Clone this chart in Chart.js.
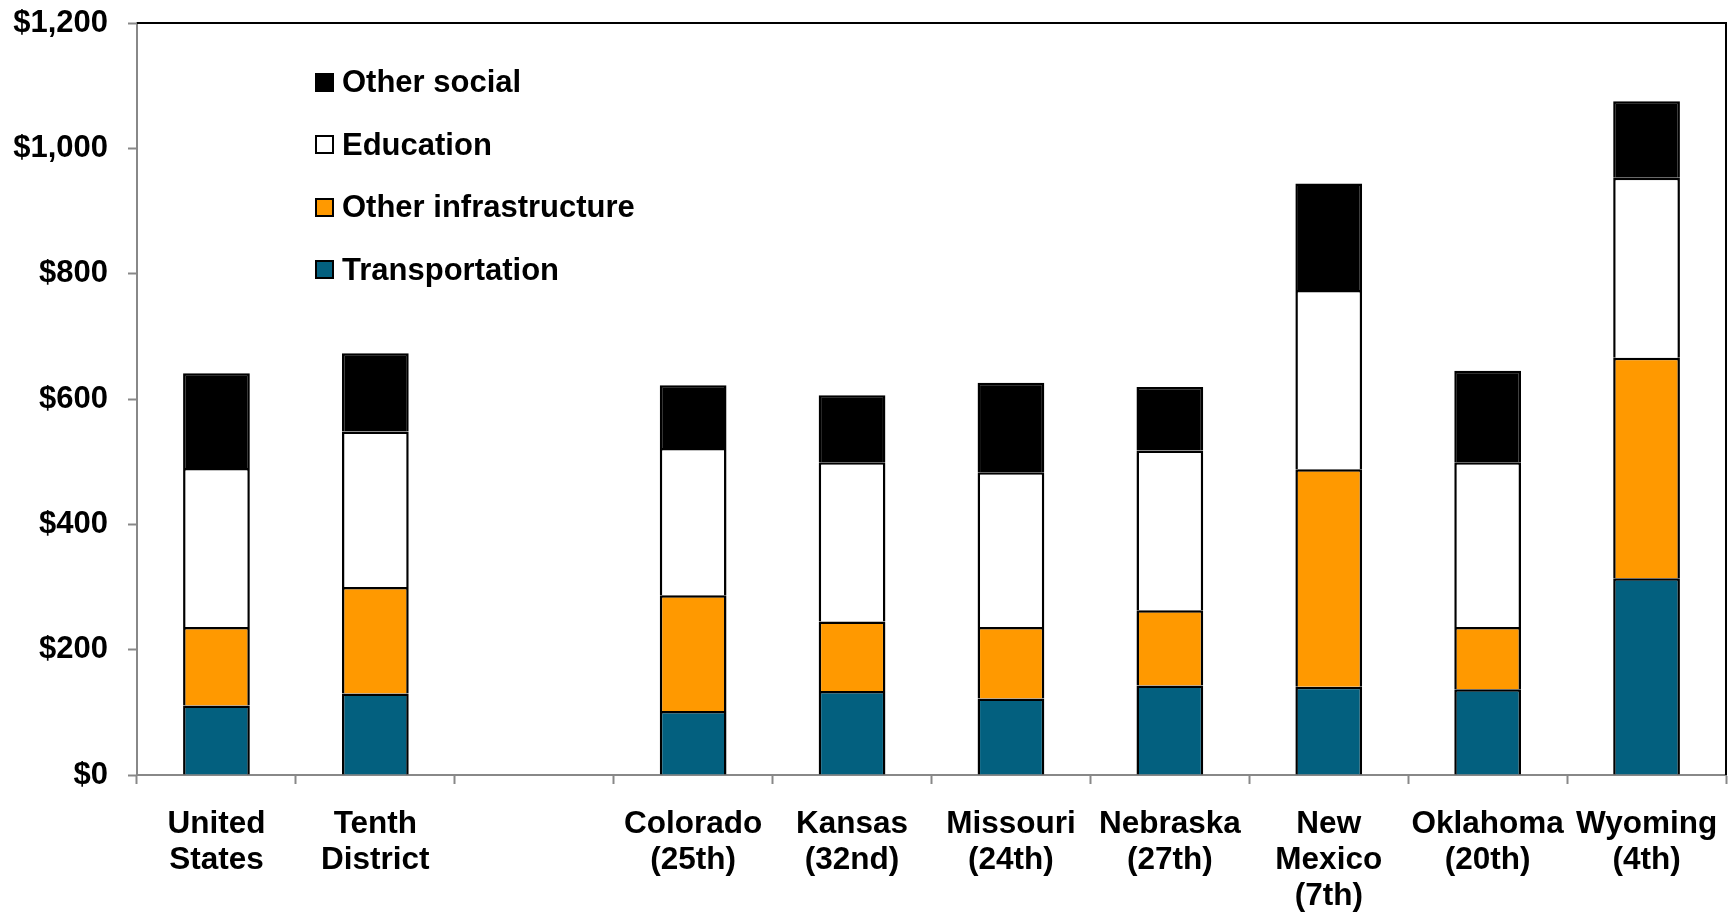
<!DOCTYPE html>
<html>
<head>
<meta charset='utf-8' />
<title>Spending per capita</title>
<script src="https://cdn.jsdelivr.net/npm/chart.js"></script>
<style>
body { margin:0; padding:0; background:#ffffff; }
#wrap {
  position: relative;
  width: 1734px;
  height: 913px;
}
#legend {
  position: absolute;
  left: 315px;
  top: 51px;
  font-family: 'Liberation Sans', Arial, sans-serif;
  font-weight: bold;
  font-size: 31px;
  color: #000000;
}
#legend .item {
  height: 62.5px;
  display: flex;
  align-items: center;
  white-space: nowrap;
}
#legend .box {
  width: 15px;
  height: 15px;
  border: 2px solid #000000;
  margin-right: 8px;
}
</style>
</head>
<body>
<div id="wrap">
  <canvas id="chart" width="1734" height="913"></canvas>
  <div id="legend"></div>
</div>

<script>

/*************************************************/
/* data                                          */
/*************************************************/

const categories = [
  ["United", "States"],
  ["Tenth", "District"],
  "",
  ["Colorado", "(25th)"],
  ["Kansas", "(32nd)"],
  ["Missouri", "(24th)"],
  ["Nebraska", "(27th)"],
  ["New", "Mexico", "(7th)"],
  ["Oklahoma", "(20th)"],
  ["Wyoming", "(4th)"]
];

// dollars per capita; the third slot is a spacer between the aggregates and the states
const transportation   = [111, 130, null, 102, 134, 122, 143, 141, 137, 314];
const otherInfra       = [125, 170, null, 185, 111, 114, 120, 347,  99, 352];
const education        = [254, 248, null, 235, 254, 247, 255, 286, 263, 287];
const otherSocial      = [151, 125, null, 100, 107, 143, 101, 170, 146, 122];

const yTicks = [0, 200, 400, 600, 800, 1000, 1200];

/*************************************************/
/* chart                                         */
/*************************************************/

const FONT = "'Liberation Sans', Arial, sans-serif";

// bottom edge skipped so stacked segments share a single dividing line
const makeSet = (label, data, color) => ({
  label: label,
  data: data,
  backgroundColor: color,
  borderColor: '#000000',
  borderWidth: 2.5,
  borderSkipped: 'start',
  barPercentage: 0.42,
  categoryPercentage: 1.0
});

const datasets = [
  makeSet("Transportation", transportation, '#03607f'),
  makeSet("Other infrastructure", otherInfra, '#ff9900'),
  makeSet("Education", education, '#ffffff'),
  makeSet("Other social", otherSocial, '#000000')
];

// black frame on the top and right of the plot area
const frame = {
  id: 'frame',
  afterDraw: (chart) => {
    const a = chart.chartArea;
    const ctx = chart.ctx;
    ctx.save();
    ctx.strokeStyle = '#000000';
    ctx.lineWidth = 2;
    ctx.beginPath();
    ctx.moveTo(a.left, a.top);
    ctx.lineTo(a.right, a.top);
    ctx.lineTo(a.right, a.bottom);
    ctx.stroke();
    ctx.restore();
  }
};

const chart = new Chart(document.getElementById('chart'), {
  type: 'bar',
  data: { labels: categories, datasets: datasets },
  options: {
    responsive: false,
    animation: false,
    devicePixelRatio: 1,
    layout: { padding: { left: 0, right: 8, top: 23, bottom: 0 } },
    plugins: {
      legend: { display: false },
      tooltip: { enabled: false }
    },
    scales: {
      x: {
        stacked: true,
        grid: {
          display: true,
          drawOnChartArea: false,
          offset: true,
          color: '#888888',
          tickLength: 9,
          tickWidth: 2
        },
        border: { color: '#888888', width: 2 },
        ticks: {
          color: '#000000',
          padding: 23,
          maxRotation: 0,
          autoSkip: false,
          font: { family: FONT, weight: 'bold', size: 31.5, lineHeight: 1.13 }
        },
        afterFit: (s) => {
          s.height = 138;
          s.paddingLeft = 0;
          s.paddingRight = 0;
        }
      },
      y: {
        stacked: true,
        min: 0,
        max: 1200,
        afterBuildTicks: (s) => { s.ticks = yTicks.map(v => ({ value: v })); },
        grid: {
          display: true,
          drawOnChartArea: false,
          color: '#888888',
          tickLength: 9,
          tickWidth: 2
        },
        border: { color: '#888888', width: 2 },
        ticks: {
          color: '#000000',
          padding: 20,
          font: { family: FONT, weight: 'bold', size: 31 },
          callback: (v) => '$' + v.toLocaleString('en-US')
        },
        afterFit: (s) => {
          s.width = 137;
          s.paddingTop = 0;
          s.paddingBottom = 0;
        }
      }
    }
  },
  plugins: [frame]
});

/*************************************************/
/* legend (top series first)                     */
/*************************************************/

const legendEl = document.getElementById('legend');
datasets.slice().reverse().forEach(d => {
  const item = document.createElement('div');
  item.className = 'item';
  const box = document.createElement('span');
  box.className = 'box';
  box.style.background = d.backgroundColor;
  const txt = document.createElement('span');
  txt.textContent = d.label;
  item.appendChild(box);
  item.appendChild(txt);
  legendEl.appendChild(item);
});

</script>
</body>
</html>
